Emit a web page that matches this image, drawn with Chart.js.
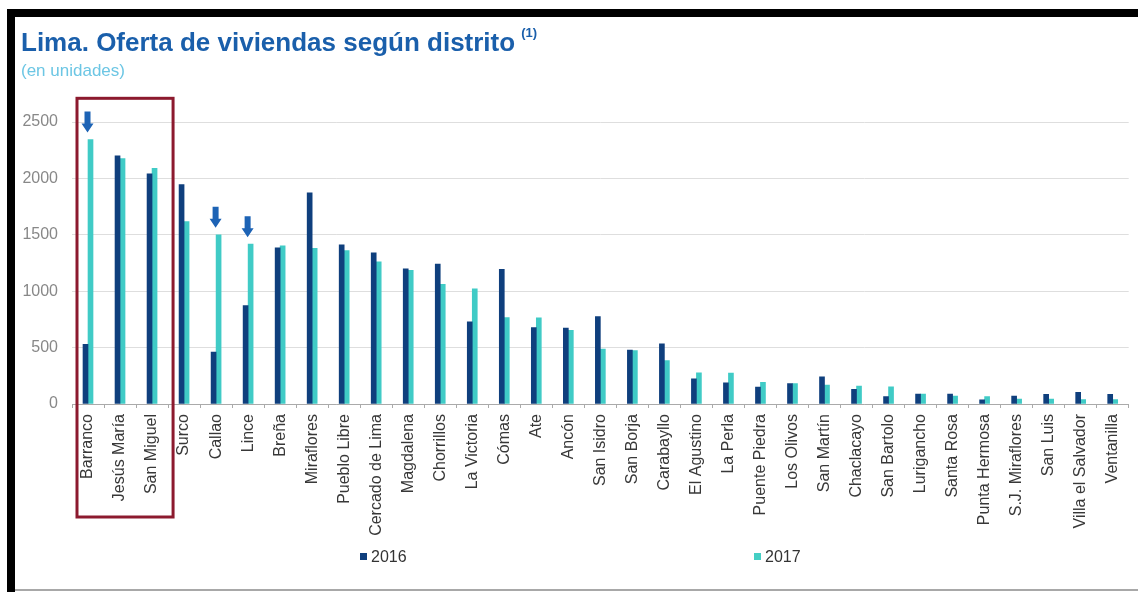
<!DOCTYPE html>
<html>
<head>
<meta charset="utf-8">
<script src="https://cdn.jsdelivr.net/npm/chart.js@4"></script>
<style>
  html, body { margin: 0; padding: 0; background: #fff; }
  #wrap { position: relative; width: 1138px; height: 592px; overflow: hidden; font-family: "Liberation Sans", Arial, sans-serif; }
  #chart { position: absolute; left: 0; top: 0; }
  .bar-top { position: absolute; left: 7px; top: 9px; width: 1131px; height: 8px; background: #000; }
  .bar-left { position: absolute; left: 7px; top: 9px; width: 8px; height: 583px; background: #000; }
  .bar-bottom { position: absolute; left: 15px; top: 589px; width: 1123px; height: 2px; background: #a8a8a8; }
  .title { position: absolute; left: 21px; top: 29px; font-size: 26px; line-height: 1; font-weight: bold; color: #1a5fab; white-space: nowrap; }
  .title sup { font-size: 13px; position: relative; top: -4px; margin-left: 6px; }
  .subtitle { position: absolute; left: 21px; top: 62px; font-size: 17px; line-height: 1; color: #6cc6e4; }
  .legend { position: absolute; top: 549px; font-size: 16px; line-height: 1; color: #333; white-space: nowrap; }
  .legend i { display: inline-block; width: 7px; height: 7px; margin-right: 4px; vertical-align: 2px; }
</style>
</head>
<body>
<div id="wrap">
  <canvas id="chart" width="1138" height="592"></canvas>
  <div class="bar-top"></div>
  <div class="bar-left"></div>
  <div class="bar-bottom"></div>
  <div class="title">Lima. Oferta de viviendas según distrito<sup>(1)</sup></div>
  <div class="subtitle">(en unidades)</div>
  <div class="legend" style="left:360px"><i style="background:#0f3f7d"></i>2016</div>
  <div class="legend" style="left:754px"><i style="background:#45cfc4"></i>2017</div>
</div>
<script>
// districts, in the order of the chart
const districts = ['Barranco', 'Jesús María', 'San Miguel', 'Surco', 'Callao', 'Lince', 'Breña',
  'Miraflores', 'Pueblo Libre', 'Cercado de Lima', 'Magdalena', 'Chorrillos', 'La Victoria',
  'Cómas', 'Ate', 'Ancón', 'San Isidro', 'San Borja', 'Carabayllo', 'El Agustino', 'La Perla',
  'Puente Piedra', 'Los Olivos', 'San Martín', 'Chaclacayo', 'San Bartolo', 'Lurigancho',
  'Santa Rosa', 'Punta Hermosa', 'S.J. Miraflores', 'San Luis', 'Villa el Salvador', 'Ventanilla'];

const offer2016 = [530, 2200, 2040, 1945, 460, 872, 1385, 1872, 1412, 1341, 1199, 1240, 728,
  1193, 678, 672, 775, 477, 533, 224, 188, 150, 180, 241, 130, 65, 88, 88, 38, 71, 86, 103, 86];
const offer2017 = [2345, 2175, 2090, 1618, 1500, 1417, 1403, 1379, 1361, 1261, 1185, 1061, 1020,
  766, 763, 654, 486, 474, 386, 277, 274, 192, 180, 168, 159, 153, 88, 71, 65, 44, 44, 40, 40];

const yTicks = [0, 500, 1000, 1500, 2000, 2500];

// districts marked with an arrow, and the boxed group
const arrowed = ['Barranco', 'Callao', 'Lince'];
const boxed = ['Barranco', 'San Miguel'];

const navy = '#0f3f7d';
const teal = '#40cbc6';

const marks = {
  id: 'marks',
  afterDatasetsDraw(chart) {
    const { ctx, scales: { x, y }, chartArea } = chart;
    const half = (x.getPixelForValue(1) - x.getPixelForValue(0)) / 2;

    // maroon box round the first group
    const i0 = districts.indexOf(boxed[0]);
    const i1 = districts.indexOf(boxed[1]);
    const left = x.getPixelForValue(i0) - half + 5;
    const right = x.getPixelForValue(i1) + half + 5;
    const top = y.getPixelForValue(2710);
    const bottom = chartArea.bottom + 113;
    ctx.save();
    ctx.strokeStyle = '#8c1a2e';
    ctx.lineWidth = 3;
    ctx.strokeRect(left, top, right - left, bottom - top);

    // down arrows above the 2017 bars
    ctx.fillStyle = '#1d63b5';
    arrowed.forEach(name => {
      const i = districts.indexOf(name);
      const cx = x.getPixelForValue(i) - 0.5;
      const tip = y.getPixelForValue(offer2017[i]) - 7;
      ctx.beginPath();
      ctx.moveTo(cx - 3, tip - 21);
      ctx.lineTo(cx + 3, tip - 21);
      ctx.lineTo(cx + 3, tip - 9);
      ctx.lineTo(cx + 6, tip - 9);
      ctx.lineTo(cx, tip);
      ctx.lineTo(cx - 6, tip - 9);
      ctx.lineTo(cx - 3, tip - 9);
      ctx.closePath();
      ctx.fill();
    });
    ctx.restore();
  }
};

new Chart(document.getElementById('chart'), {
  type: 'bar',
  data: {
    labels: districts,
    datasets: [
      { label: '2016', data: offer2016, backgroundColor: navy, barThickness: 5 },
      { label: '2017', data: offer2017, backgroundColor: teal, barThickness: 5 }
    ]
  },
  options: {
    responsive: false,
    animation: false,
    layout: { padding: { top: 122, right: 7, left: 0, bottom: 0 } },
    plugins: { legend: { display: false }, tooltip: { enabled: false } },
    scales: {
      x: {
        afterFit: s => { s.height = 188; },
        grid: { drawOnChartArea: false, tickLength: 4, color: '#aaa' },
        border: { color: '#aaa' },
        ticks: {
          autoSkip: false, minRotation: 90, maxRotation: 90, padding: 6,
          color: '#383838', font: { family: 'Liberation Sans', size: 16 }
        }
      },
      y: {
        min: 0, max: 2500,
        afterFit: s => { s.width = 72; },
        afterBuildTicks: s => { s.ticks = yTicks.map(v => ({ value: v })); },
        grid: { drawTicks: false, color: '#dedede' },
        border: { display: false },
        ticks: {
          padding: 14, color: '#888', font: { family: 'Liberation Sans', size: 16 },
          callback: v => String(v)
        }
      }
    }
  },
  plugins: [marks]
});
</script>
</body>
</html>
